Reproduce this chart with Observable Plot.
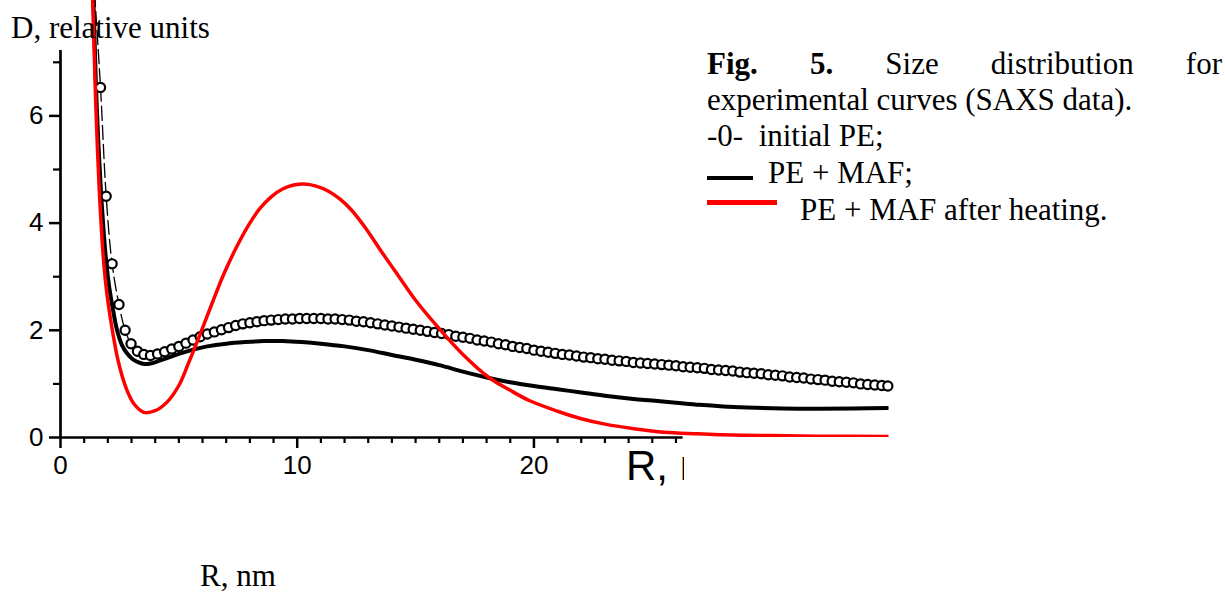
<!DOCTYPE html>
<html>
<head>
<meta charset="utf-8">
<script src="https://cdn.jsdelivr.net/npm/d3@7"></script>
<script src="https://cdn.jsdelivr.net/npm/@observablehq/plot@0.6"></script>
<style>
  html, body { margin: 0; padding: 0; background: #fff; }
  #wrap { position: relative; width: 1225px; height: 593px; overflow: hidden; background: #fff; }
  #wrap svg { position: absolute; left: 0; top: 0; }
  #wrap svg text { font-size: 26px !important; font-family: "Liberation Sans", Arial, sans-serif !important; }
  .serif { position: absolute; font-family: "Liberation Serif", "Times New Roman", serif; font-size: 31px; line-height: 36px; white-space: pre; color: #000; }
  .sans { position: absolute; font-family: "Liberation Sans", Arial, sans-serif; color: #000; white-space: pre; }
  .swatch { position: absolute; }
</style>
</head>
<body>
<div id="wrap"></div>
<script>
// ---------------- data ----------------
// initial PE (open circles)
const initialR = [1.69, 1.93, 2.18, 2.47, 2.73, 2.98, 3.25, 3.52, 3.80,
  4.10, 4.40, 4.70, 5.00, 5.30, 5.60, 5.90, 6.20, 6.50, 6.80, 7.10, 7.40, 7.70, 8.00, 8.30, 8.60, 8.90,
  9.20, 9.50, 9.80, 10.10, 10.40, 10.70, 11.00, 11.30, 11.60, 11.90, 12.20, 12.50, 12.80, 13.10, 13.40,
  13.70, 14.00, 14.30, 14.60, 14.90, 15.20, 15.50, 15.80, 16.10, 16.40, 16.70, 17.00, 17.30, 17.60, 17.90,
  18.20, 18.50, 18.80, 19.10, 19.40, 19.70, 20.00, 20.30, 20.60, 20.90, 21.20, 21.50, 21.80, 22.10, 22.40,
  22.70, 23.00, 23.30, 23.60, 23.90, 24.20, 24.50, 24.80, 25.10, 25.40, 25.70, 26.00, 26.30, 26.60, 26.90,
  27.20, 27.50, 27.80, 28.10, 28.40, 28.70, 29.00, 29.30, 29.60, 29.90, 30.20, 30.50, 30.80, 31.10, 31.40,
  31.70, 32.00, 32.30, 32.60, 32.90, 33.20, 33.50, 33.80, 34.10, 34.40, 34.70, 34.95];
const initialD = [6.53, 4.50, 3.24, 2.48, 2.00, 1.75, 1.61, 1.55, 1.53,
  1.56, 1.60, 1.65, 1.70, 1.76, 1.82, 1.88, 1.93, 1.97, 2.01, 2.05, 2.09, 2.12, 2.14, 2.16, 2.18, 2.19,
  2.20, 2.21, 2.21, 2.22, 2.22, 2.22, 2.22, 2.21, 2.21, 2.20, 2.19, 2.17, 2.16, 2.14, 2.12,
  2.10, 2.08, 2.06, 2.04, 2.02, 2.00, 1.98, 1.96, 1.94, 1.92, 1.89, 1.87, 1.85, 1.82, 1.80,
  1.78, 1.75, 1.73, 1.70, 1.68, 1.66, 1.63, 1.61, 1.59, 1.57, 1.55, 1.54, 1.52, 1.50, 1.49,
  1.47, 1.46, 1.44, 1.43, 1.42, 1.40, 1.39, 1.38, 1.37, 1.36, 1.35, 1.34, 1.32, 1.31, 1.30,
  1.29, 1.27, 1.26, 1.25, 1.24, 1.22, 1.21, 1.20, 1.19, 1.17, 1.16, 1.15, 1.13, 1.12, 1.11,
  1.09, 1.08, 1.07, 1.05, 1.04, 1.03, 1.02, 1.00, 0.99, 0.98, 0.97, 0.96];
// start of the thin dashed guide line of the initial PE curve (above the first circle)
const initialLineStartR = [1.44];
const initialLineStartD = [8.30];

// PE + MAF (black line)
const mafR = [1.38, 1.44, 1.50, 1.61, 1.72, 1.83, 1.94, 2.06, 2.18, 2.39, 2.60, 2.81, 3.05, 3.30, 3.55, 3.80,
  4.10, 4.50, 5.00, 5.60, 6.20, 7.00, 7.80, 8.60, 9.40, 10.20, 11.00, 12.00, 13.00, 14.00, 15.00, 16.00,
  17.00, 18.10, 19.00, 20.00, 21.00, 22.00, 23.00, 24.20, 25.00, 26.00, 27.00, 28.00, 29.00, 30.50, 32.00,
  33.50, 35.00];
const mafD = [8.30, 7.40, 6.53, 5.40, 4.50, 3.80, 3.24, 2.80, 2.48, 2.00, 1.72, 1.57, 1.46, 1.40, 1.37, 1.38,
  1.42, 1.48, 1.56, 1.64, 1.70, 1.75, 1.78, 1.80, 1.80, 1.78, 1.75, 1.70, 1.63, 1.54, 1.45, 1.35,
  1.23, 1.11, 1.03, 0.96, 0.90, 0.84, 0.78, 0.72, 0.69, 0.65, 0.61, 0.58, 0.56, 0.54, 0.535,
  0.54, 0.55];

// PE + MAF after heating (red line)
const heatR = [1.35, 1.41, 1.47, 1.56, 1.65, 1.74, 1.83, 1.95, 2.11, 2.25, 2.39, 2.60, 2.81, 3.10, 3.52,
  4.00, 4.50, 5.00, 5.40, 5.90, 6.40, 6.90, 7.40, 7.90, 8.40, 8.90, 9.40, 9.85, 10.30, 10.80, 11.30,
  11.80, 12.30, 12.90, 13.60, 14.30, 15.00, 16.00, 17.00, 18.10, 19.00, 19.80, 21.00, 22.00, 23.00,
  24.30, 25.50, 26.90, 28.00, 30.00, 32.00, 35.00];
const heatD = [8.30, 7.40, 6.50, 5.40, 4.50, 3.80, 3.24, 2.72, 2.22, 1.85, 1.52, 1.15, 0.88, 0.63, 0.47,
  0.50, 0.66, 0.97, 1.38, 1.93, 2.50, 3.05, 3.52, 3.93, 4.26, 4.49, 4.64, 4.71, 4.73, 4.69, 4.60,
  4.45, 4.24, 3.90, 3.44, 3.00, 2.56, 2.03, 1.55, 1.12, 0.88, 0.69, 0.49, 0.35, 0.25,
  0.16, 0.10, 0.07, 0.05, 0.035, 0.025, 0.02];

// axes
const xDomain = [0, 35];
const yDomain = [0, 8.153];
const xMajorTicks = [0, 10, 20];
const xMinorTicks = [1,2,3,4,5,6,7,8,9,11,12,13,14,15,16,17,18,19,21,22,23,24,25,26];
const xAxisEnd = 26.3;
const yMajorTicks = [0, 2, 4, 6];
const yMinorTicks = [1, 3, 5, 7];
const yAxisTop = 7.22;

// texts
const yTitle = "D, relative units";
const xTitleBig = "R, nm";
const xTitle = "R, nm";
const captionLine1 = ["Fig.", "5.", "Size", "distribution", "for"];
const captionLine2 = "experimental curves (SAXS data).";
const legendInitial = "-0-  initial PE;";
const legendMaf = "PE + MAF;";
const legendHeat = "PE + MAF after heating.";

// ---------------- build ----------------
const toRows = (R, D) => R.map((r, i) => ({R: r, D: D[i]}));
const initialRows = toRows(initialR, initialD);
const initialLineRows = toRows(initialLineStartR, initialLineStartD).concat(initialRows);
const mafRows = toRows(mafR, mafD);
const heatRows = toRows(heatR, heatD);

const chart = Plot.plot({
  width: 1225,
  height: 593,
  marginLeft: 60,
  marginRight: 336.5,
  marginTop: 0,
  marginBottom: 156,
  x: {domain: xDomain, axis: null},
  y: {domain: yDomain, axis: null},
  style: {background: "transparent", color: "black", fontFamily: "Liberation Sans, Arial, sans-serif", fontSize: "26px"},
  marks: [
    Plot.ruleX([0], {y1: 0, y2: yAxisTop, stroke: "black", strokeWidth: 2.7}),
    Plot.ruleY([0], {x1: 0, x2: xAxisEnd, stroke: "black", strokeWidth: 2.7}),
    Plot.axisX({ticks: xMajorTicks, tickSize: 11, tickPadding: 7, strokeWidth: 2.5, label: null, fontSize: 26, tickFormat: d3.format("d")}),
    Plot.axisX({ticks: xMinorTicks, tickSize: 6, strokeWidth: 2.2, fill: "none", label: null}),
    Plot.axisY({ticks: yMajorTicks, tickSize: 11, tickPadding: 6, strokeWidth: 2.5, label: null, fontSize: 26, tickFormat: d3.format("d")}),
    Plot.axisY({ticks: yMinorTicks, tickSize: 7, strokeWidth: 2.2, fill: "none", label: null}),
    Plot.line(initialLineRows, {x: "R", y: "D", stroke: "black", strokeWidth: 1.3, strokeDasharray: "14,5", curve: "catmull-rom", clip: true}),
    Plot.line(mafRows, {x: "R", y: "D", stroke: "black", strokeWidth: 4, curve: "catmull-rom", clip: true}),
    Plot.dot(initialRows, {x: "R", y: "D", r: 4.6, stroke: "black", strokeWidth: 2.2, fill: "white"}),
    Plot.line(heatRows, {x: "R", y: "D", stroke: "#ff0000", strokeWidth: 3.5, curve: "catmull-rom", clip: true})
  ]
});

const wrap = document.getElementById("wrap");
wrap.appendChild(chart);

function addText(cls, text, left, top, extra) {
  const d = document.createElement("div");
  d.className = cls;
  d.textContent = text;
  d.style.left = left + "px";
  d.style.top = top + "px";
  if (extra) Object.assign(d.style, extra);
  wrap.appendChild(d);
  return d;
}

// y title
addText("serif", yTitle, 11, 10);

// big clipped x label (sans)
const clip = document.createElement("div");
clip.style.position = "absolute";
clip.style.left = "620px";
clip.style.top = "440px";
clip.style.width = "64px";
clip.style.height = "60px";
clip.style.overflow = "hidden";
const big = document.createElement("div");
big.className = "sans";
big.textContent = xTitleBig;
big.style.left = "6px";
big.style.top = "2px";
big.style.fontSize = "42px";
big.style.lineHeight = "48px";
clip.appendChild(big);
wrap.appendChild(clip);

// bottom x title (serif)
addText("serif", xTitle, 200, 558);

// caption line 1 (justified)
const l1 = document.createElement("div");
l1.className = "serif";
Object.assign(l1.style, {left: "707px", top: "46px", width: "515px", display: "flex", justifyContent: "space-between"});
captionLine1.forEach((w, i) => {
  const s = document.createElement("span");
  s.textContent = w;
  if (i < 2) s.style.fontWeight = "bold";
  l1.appendChild(s);
});
wrap.appendChild(l1);

addText("serif", captionLine2, 707, 81.5);
addText("serif", legendInitial, 707, 118);
addText("serif", legendMaf, 768, 154.6);
addText("serif", legendHeat, 800, 192.3);

// legend swatches
const sw1 = document.createElement("div");
sw1.className = "swatch";
Object.assign(sw1.style, {left: "707px", top: "175.7px", width: "46px", height: "4px", background: "black"});
wrap.appendChild(sw1);
const sw2 = document.createElement("div");
sw2.className = "swatch";
Object.assign(sw2.style, {left: "707px", top: "200px", width: "70px", height: "5px", background: "#ff0000"});
wrap.appendChild(sw2);
</script>
</body>
</html>
